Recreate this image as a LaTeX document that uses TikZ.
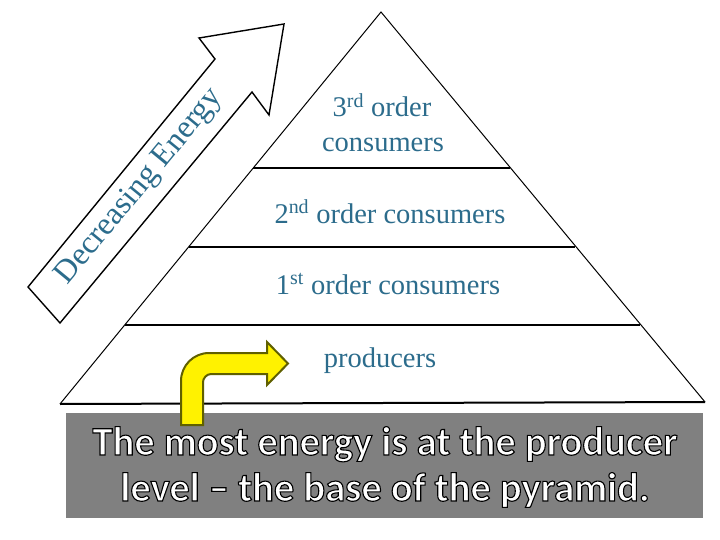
\documentclass[tikz,border=0pt]{standalone}
\usepackage{fontspec}
\setmainfont{Liberation Serif}
\newfontfamily\calibfont{Carlito}[Ligatures=TeX, BoldFont={Carlito Bold}]
\definecolor{labelteal}{RGB}{44,108,140}
\definecolor{olivebd}{RGB}{96,96,0}
\definecolor{boxgray}{RGB}{128,128,128}
\newcommand{\outlinetext}[1]{\special{pdf:literal direct 2 Tr 1.1 w 0 G}#1\special{pdf:literal direct 0 Tr}}
\tikzset{
  level/.style={fill=white, text=labelteal, inner sep=0pt, anchor=base, font=\fontsize{28.5}{34}\selectfont},
  divider/.style={line width=2pt},
  side/.style={line width=1pt},
  energyarrow/.style={draw=black, line width=1.4pt, fill=white, line join=miter},
  bentarrow/.style={fill=yellow, draw=olivebd, line width=2pt, line join=miter},
  notebox/.style={fill=boxgray, draw=none, minimum width=637pt, minimum height=105pt, inner sep=0pt},
  notetext/.style={text=white, align=center, font=\calibfont\bfseries\fontsize{40.5}{46}\selectfont}
}
\begin{document}
\begin{tikzpicture}[x=1pt,y=-1pt]
\useasboundingbox (0,0) rectangle (720,540);
% pyramid
\coordinate (apex) at (381,12);
\coordinate (bl) at (60,404);
\coordinate (br) at (705,402);
\draw[side] (bl) -- (apex) -- (br);
\draw[divider] (bl) -- (br);
\coordinate (l1) at (253.2,168); \coordinate (r1) at (510,168);
\coordinate (l2) at (188.6,247); \coordinate (r2) at (575.2,247);
\coordinate (l3) at (124.8,325); \coordinate (r3) at (639.6,325);
\draw[divider] (l1) -- (r1);
\draw[divider] (l2) -- (r2);
\draw[divider] (l3) -- (r3);
% labels
\node[level] (third) at (382,117) {3\textsuperscript{rd} order};
\node[level] (thirdb) at (383,152) {consumers};
\node[level] (second) at (390,223) {2\textsuperscript{nd} order consumers};
\node[level] (first) at (388,294) {1\textsuperscript{st} order consumers};
\node[level] (prod) at (380,367) {producers};
% decreasing energy arrow
\draw[energyarrow] (28,287) -- (215,59) -- (199,38) -- (284,24) -- (269,115) -- (252,92) -- (60,323) -- cycle;
\node[text=labelteal, rotate=50.5, inner sep=0pt, font=\fontsize{32}{38}\selectfont] (dec) at (140,187) {Decreasing Energy};
% gray note box
\node[notebox, anchor=north west] (box) at (66,413) {};
\node[notetext] (note) at (385,467) {\outlinetext{The most energy is at the producer}\\\outlinetext{level – the base of the pyramid.}};
% yellow bent arrow
\draw[bentarrow] (181,425) -- (181,381) .. controls (181,365.5) and (193.5,353) .. (209,353) -- (267,353) -- (267,342) -- (288,363.5) -- (267,385) -- (267,374) -- (211,374) .. controls (206.6,374) and (203,378.4) .. (203,382) -- (203,425) -- cycle;
\end{tikzpicture}
\end{document}
